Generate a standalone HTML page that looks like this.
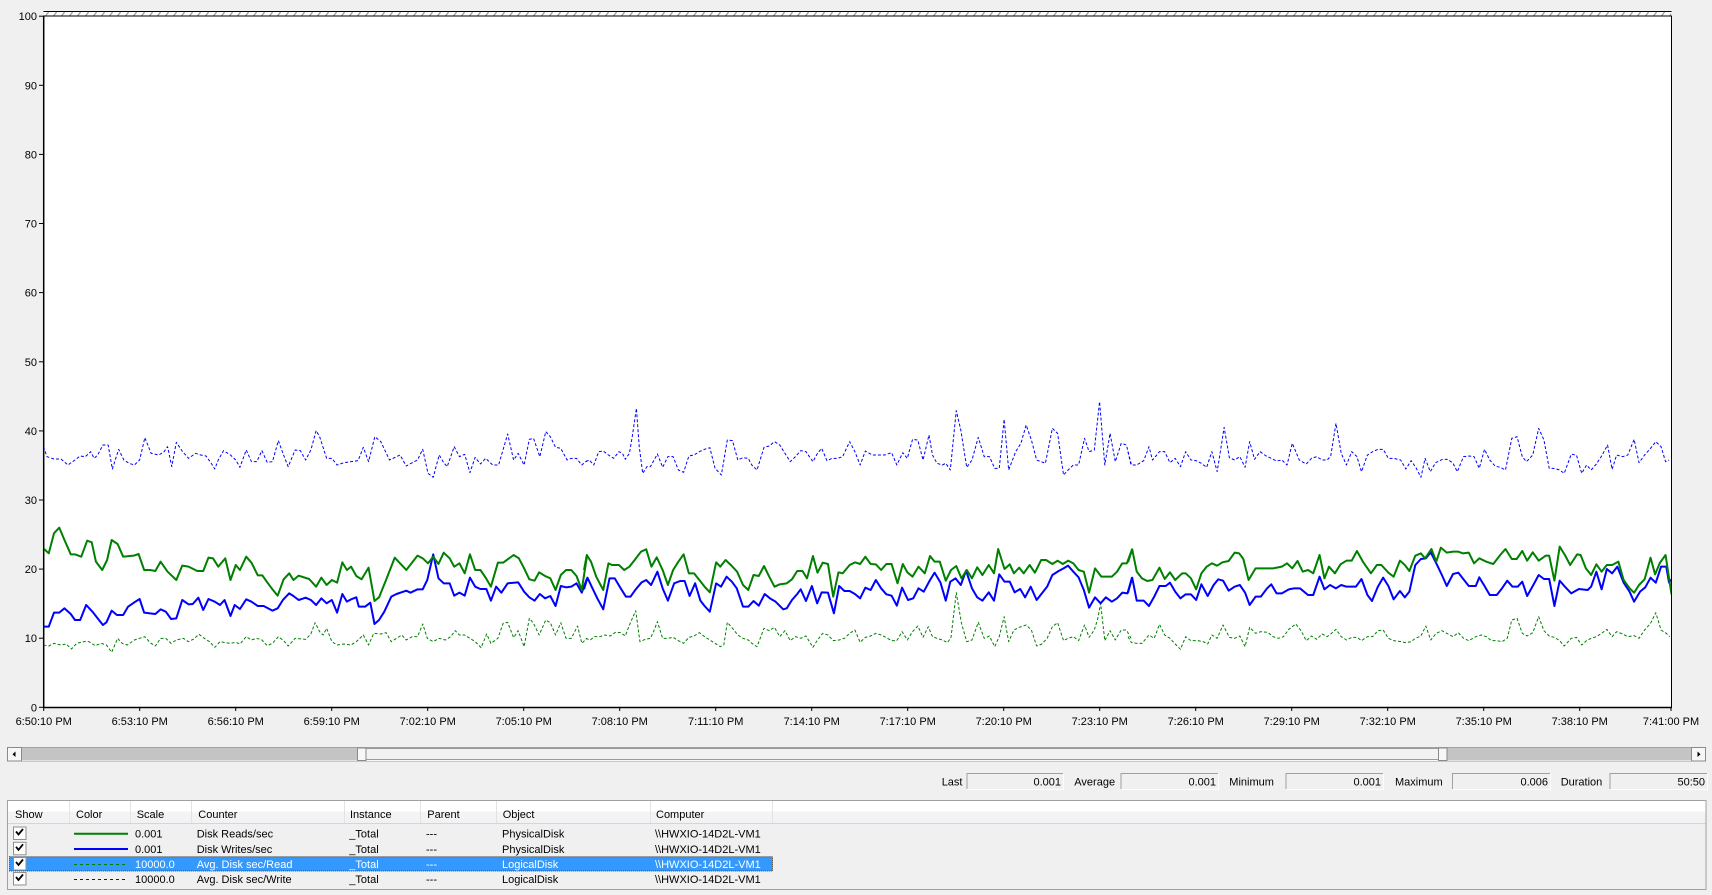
<!DOCTYPE html>
<html>
<head>
<meta charset="utf-8">
<style>
html,body{margin:0;padding:0;background:#f0f0f0;}
body{width:1712px;height:895px;overflow:hidden;}
svg{display:block;font-family:"Liberation Sans",sans-serif;font-size:11px;}
text{fill:#000;}
</style>
</head>
<body>
<svg width="1712" height="895" viewBox="0 0 1712 895" xmlns="http://www.w3.org/2000/svg">
<defs>
<pattern id="hatch" width="8" height="5" patternUnits="userSpaceOnUse" x="44" y="11.5">
<rect width="8" height="5" fill="#fff"/>
<line x1="1" y1="5" x2="5" y2="0" stroke="#8a8a8a" stroke-width="1"/>
</pattern>
<clipPath id="plotclip"><rect x="44" y="16" width="1627" height="691"/></clipPath>
<linearGradient id="hdr" x1="0" y1="0" x2="0" y2="1">
<stop offset="0" stop-color="#ffffff"/><stop offset="0.45" stop-color="#ffffff"/><stop offset="0.5" stop-color="#f3f4f6"/><stop offset="1" stop-color="#f1f2f4"/>
</linearGradient>
</defs>

<!-- plot area -->
<rect x="0" y="0" width="1712" height="895" fill="#f0f0f0"/>
<rect x="44" y="11.5" width="1627" height="4.5" fill="url(#hatch)"/>
<line x1="43.5" y1="11.5" x2="1671.5" y2="11.5" stroke="#000"/>
<rect x="43.5" y="16" width="1628" height="691.5" fill="#fff" stroke="#000" stroke-width="1"/>
<line x1="43.7" y1="16" x2="43.7" y2="708" stroke="#000" stroke-width="1.5"/>
<line x1="43" y1="707.5" x2="1672" y2="707.5" stroke="#000" stroke-width="1.5"/>

<!-- y ticks -->
<g stroke="#000" stroke-width="1">
<line x1="39" y1="707.3" x2="44" y2="707.3"/><line x1="39" y1="638.2" x2="44" y2="638.2"/><line x1="39" y1="569.1" x2="44" y2="569.1"/><line x1="39" y1="500" x2="44" y2="500"/><line x1="39" y1="430.9" x2="44" y2="430.9"/><line x1="39" y1="361.8" x2="44" y2="361.8"/><line x1="39" y1="292.6" x2="44" y2="292.6"/><line x1="39" y1="223.5" x2="44" y2="223.5"/><line x1="39" y1="154.4" x2="44" y2="154.4"/><line x1="39" y1="85.3" x2="44" y2="85.3"/><line x1="39" y1="16.2" x2="44" y2="16.2"/>
</g>
<g text-anchor="end">
<text x="37" y="711.3">0</text><text x="37" y="642.2">10</text><text x="37" y="573.1">20</text><text x="37" y="504">30</text><text x="37" y="434.9">40</text><text x="37" y="365.8">50</text><text x="37" y="296.6">60</text><text x="37" y="227.5">70</text><text x="37" y="158.4">80</text><text x="37" y="89.3">90</text><text x="37" y="20.2">100</text>
</g>

<!-- x ticks -->
<g stroke="#000" stroke-width="1">
<line x1="43.7" y1="707" x2="43.7" y2="711"/><line x1="139.7" y1="707" x2="139.7" y2="711"/><line x1="235.7" y1="707" x2="235.7" y2="711"/><line x1="331.7" y1="707" x2="331.7" y2="711"/><line x1="427.7" y1="707" x2="427.7" y2="711"/><line x1="523.7" y1="707" x2="523.7" y2="711"/><line x1="619.7" y1="707" x2="619.7" y2="711"/><line x1="715.7" y1="707" x2="715.7" y2="711"/><line x1="811.7" y1="707" x2="811.7" y2="711"/><line x1="907.7" y1="707" x2="907.7" y2="711"/><line x1="1003.7" y1="707" x2="1003.7" y2="711"/><line x1="1099.7" y1="707" x2="1099.7" y2="711"/><line x1="1195.7" y1="707" x2="1195.7" y2="711"/><line x1="1291.7" y1="707" x2="1291.7" y2="711"/><line x1="1387.7" y1="707" x2="1387.7" y2="711"/><line x1="1483.7" y1="707" x2="1483.7" y2="711"/><line x1="1579.7" y1="707" x2="1579.7" y2="711"/><line x1="1671" y1="707" x2="1671" y2="711"/>
</g>
<g text-anchor="middle">
<text x="43.7" y="725">6:50:10 PM</text><text x="139.7" y="725">6:53:10 PM</text><text x="235.7" y="725">6:56:10 PM</text><text x="331.7" y="725">6:59:10 PM</text><text x="427.7" y="725">7:02:10 PM</text><text x="523.7" y="725">7:05:10 PM</text><text x="619.7" y="725">7:08:10 PM</text><text x="715.7" y="725">7:11:10 PM</text><text x="811.7" y="725">7:14:10 PM</text><text x="907.7" y="725">7:17:10 PM</text><text x="1003.7" y="725">7:20:10 PM</text><text x="1099.7" y="725">7:23:10 PM</text><text x="1195.7" y="725">7:26:10 PM</text><text x="1291.7" y="725">7:29:10 PM</text><text x="1387.7" y="725">7:32:10 PM</text><text x="1483.7" y="725">7:35:10 PM</text><text x="1579.7" y="725">7:38:10 PM</text><text x="1671" y="725">7:41:00 PM</text>
</g>

<!-- series -->
<g clip-path="url(#plotclip)" fill="none" stroke-linejoin="round">
<!-- segment 1 -->
<g transform="translate(40,390) scale(0.34953,0.33333)">
<polyline vector-effect="non-scaling-stroke" stroke="#0000ff" stroke-width="1" stroke-dasharray="3,2" points="10,170 20,200 40,207 60,207 80,225 100,210 115,198 130,200 145,185 155,205 165,195 180,165 195,165 207,237 225,178 240,210 255,220 270,225 285,210 300,143 318,190 340,195 355,185 365,170 377,230 390,157 408,185 425,205 445,190 460,195 475,198 490,220 500,237 510,210 525,182 545,195 560,210 572,232 590,180 605,215 620,215 635,182 650,217 665,215 682,152 695,190 710,230 730,180 745,182 760,210 775,180 790,122 800,140 820,205 835,205 850,225 870,218 890,215 910,212 925,172 940,215 958,140 975,155 1000,210 1020,200 1030,195 1048,228 1065,218 1080,210 1095,178 1110,250 1125,262 1142,195 1155,218 1165,230 1185,170 1200,200 1215,193 1230,248 1245,202 1260,222 1275,205 1295,225 1312,225 1338,132 1355,210 1368,190 1385,225 1400,148 1412,145 1430,200 1447,125 1460,140 1475,172 1490,175 1508,210 1520,205 1535,205 1550,225 1565,212"/>
<polyline vector-effect="non-scaling-stroke" stroke="#008000" stroke-width="1" stroke-dasharray="3,2" points="10,765 25,768 40,760 60,765 75,762 90,777 105,760 125,755 140,755 158,767 175,760 190,765 205,787 222,745 235,760 250,765 270,750 285,745 300,740 315,758 330,768 345,745 360,745 375,760 390,750 410,745 425,755 440,747 455,733 470,745 485,755 500,772 515,755 530,758 545,760 560,757 572,762 590,740 605,750 620,745 635,750 650,767 665,760 682,740 697,752 710,768 730,745 760,748 775,732 787,698 800,725 810,735 820,715 835,755 850,765 870,762 890,765 905,755 925,735 940,765 955,730 975,732 990,728 1005,755 1020,745 1035,735 1048,750 1065,740 1080,740 1095,702 1108,745 1125,755 1142,745 1160,750 1175,740 1188,722 1200,735 1215,735 1230,745 1245,755 1262,773 1278,732 1290,760 1310,745 1325,700 1338,697 1355,743 1368,722 1385,770 1400,685 1412,700 1428,735 1447,690 1460,698 1475,735 1490,698 1505,745 1520,745 1538,708 1550,760 1565,745"/>
<polyline vector-effect="non-scaling-stroke" stroke="#0000ff" stroke-width="2" points="10,710 25,710 40,668 55,668 70,655 88,672 100,690 115,690 132,645 150,665 165,685 180,705 190,697 205,662 220,675 238,675 252,650 270,637 285,627 298,668 315,670 330,672 345,658 360,665 375,687 390,685 407,630 425,643 437,642 453,623 467,660 482,627 500,635 515,645 528,630 545,678 557,645 572,657 590,628 605,635 623,648 640,648 665,662 680,655 695,630 713,610 725,618 740,630 760,623 775,630 790,645 805,625 820,640 835,630 850,668 865,612 878,635 890,628 905,622 912,650 930,650 945,638 957,702 970,690 985,665 1005,620 1020,612 1048,602 1060,608 1080,598 1095,598 1108,570 1125,493 1140,565 1155,580 1172,580 1185,617 1200,608 1215,617 1230,563 1245,590 1260,597 1277,597 1290,632 1305,590 1320,608 1338,580 1368,577 1385,605 1400,622 1415,632 1430,612 1445,625 1460,618 1475,648 1490,588 1505,592 1520,590 1535,580 1550,608 1565,565"/>
<polyline vector-effect="non-scaling-stroke" stroke="#008000" stroke-width="2" points="10,475 25,490 40,430 55,413 70,450 88,493 100,493 118,500 135,452 148,457 160,515 178,540 192,510 205,450 222,462 238,500 268,497 282,492 298,540 315,540 330,543 345,515 365,545 390,570 407,527 425,530 450,543 467,543 482,503 495,505 510,530 530,505 545,570 560,525 572,540 590,500 605,518 623,556 636,556 650,577 665,598 680,617 697,568 713,550 725,570 740,557 770,567 790,590 805,563 820,585 835,570 850,578 865,517 878,540 890,530 905,558 920,568 940,533 957,633 970,622 990,570 1015,503 1030,520 1048,540 1080,497 1095,505 1110,520 1125,500 1140,522 1155,488 1172,505 1185,530 1200,520 1215,550 1230,493 1245,540 1260,540 1275,563 1290,590 1310,518 1325,518 1355,495 1370,505 1385,535 1400,568 1415,572 1428,547 1445,558 1460,565 1475,600 1490,555 1505,540 1520,540 1535,558 1550,600 1565,497"/>
</g>
<!-- segment 2 -->
<g transform="translate(584,390) scale(0.34953,0.33333)">
<polyline vector-effect="non-scaling-stroke" stroke="#0000ff" stroke-width="1" stroke-dasharray="3,2" points="5,215 15,210 28,225 42,185 55,183 70,195 85,205 100,185 110,190 118,208 130,190 138,140 150,55 158,170 168,250 180,230 190,230 210,192 225,232 240,200 255,200 270,240 285,247 300,198 315,195 330,185 345,178 360,173 375,235 393,255 410,150 425,152 440,210 455,203 470,205 480,225 495,240 515,172 530,168 545,155 560,165 575,190 590,215 605,200 620,182 635,185 645,200 655,215 668,190 680,175 695,212 710,205 725,205 740,200 760,155 775,185 790,225 805,183 825,195 845,195 860,195 880,188 895,225 912,188 925,205 940,148 955,150 970,210 987,135 997,195 1010,220 1025,225 1035,220 1048,240 1065,62 1078,120 1095,232 1110,210 1128,142 1145,200 1160,200 1175,235 1188,235 1202,88 1215,240 1235,185 1250,160 1265,105 1280,150 1295,210 1320,220 1340,115 1355,130 1372,255 1385,240 1400,225 1415,225 1432,145 1445,185 1460,180 1475,35 1490,225 1505,130 1520,215 1537,160 1552,165 1565,225"/>
<polyline vector-effect="non-scaling-stroke" stroke="#008000" stroke-width="1" stroke-dasharray="3,2" points="5,745 18,750 30,740 45,740 60,735 75,738 90,727 105,728 118,738 130,705 148,662 160,755 175,748 190,745 200,722 210,695 225,745 240,745 255,742 270,752 285,760 300,742 315,738 330,728 345,740 360,750 375,760 390,770 400,765 410,697 425,715 440,735 455,745 470,750 480,760 495,770 515,715 530,722 545,712 560,740 575,722 590,752 605,740 620,745 635,738 655,772 668,750 683,730 698,735 713,752 730,750 745,745 760,730 775,720 790,757 805,742 820,738 835,730 850,735 865,743 880,752 895,752 910,725 925,750 940,725 955,708 970,742 985,710 997,740 1010,745 1025,750 1040,758 1050,742 1065,608 1080,700 1095,755 1110,750 1128,697 1145,745 1160,738 1175,770 1188,740 1202,680 1215,755 1230,720 1245,712 1265,705 1280,720 1295,768 1310,762 1325,745 1340,710 1355,698 1372,752 1385,745 1400,740 1415,752 1432,705 1445,742 1460,720 1470,685 1478,640 1490,752 1505,722 1520,750 1537,720 1552,720 1565,745"/>
<polyline vector-effect="non-scaling-stroke" stroke="#0000ff" stroke-width="2" points="0,598 10,563 22,590 38,625 55,658 73,565 88,565 105,595 120,620 133,620 148,598 165,577 178,570 192,585 210,545 225,595 240,632 258,580 275,573 288,573 302,618 318,580 333,632 345,648 360,665 378,580 392,590 408,560 423,575 437,595 455,650 470,650 485,633 500,647 517,612 532,625 548,635 570,658 580,655 595,630 610,612 620,598 635,633 652,588 667,640 680,607 698,608 715,670 730,588 745,603 760,603 775,612 790,625 805,593 820,600 835,570 850,595 865,613 880,617 895,647 910,593 927,630 942,625 957,595 972,605 990,570 1003,548 1020,578 1035,632 1048,575 1063,565 1078,585 1093,542 1110,595 1125,622 1140,632 1158,607 1173,632 1188,553 1203,575 1218,575 1232,607 1248,597 1262,622 1278,590 1295,630 1310,610 1325,590 1340,555 1358,543 1372,535 1385,527 1400,545 1415,562 1430,600 1445,653 1462,622 1478,640 1493,622 1510,635 1525,625 1540,608 1555,610 1568,562"/>
<polyline vector-effect="non-scaling-stroke" stroke="#008000" stroke-width="2" points="0,540 8,495 20,515 35,560 55,600 70,520 80,525 100,525 115,540 130,530 145,510 163,485 178,478 193,530 208,502 225,540 240,585 255,540 270,515 285,493 300,550 315,550 330,570 345,590 360,607 378,517 390,530 405,510 420,525 438,545 455,585 470,600 485,555 500,558 515,528 530,560 545,590 560,583 580,580 595,568 610,543 625,543 638,565 655,498 668,548 683,518 698,522 713,620 728,547 740,550 760,525 775,517 790,522 805,500 820,522 835,523 850,540 865,522 880,522 897,580 912,522 925,547 940,560 957,530 975,550 990,498 1003,515 1018,515 1035,572 1050,540 1065,528 1080,565 1095,540 1110,565 1125,532 1140,555 1158,525 1173,550 1185,477 1203,537 1218,523 1230,550 1245,533 1258,550 1275,525 1290,548 1308,510 1322,510 1340,522 1355,512 1370,522 1385,512 1400,520 1415,540 1430,545 1445,608 1462,535 1480,560 1510,560 1525,545 1540,520 1553,520 1568,478"/>
</g>
<!-- segment 3 -->
<g transform="translate(1128,390) scale(0.34953,0.33333)">
<polyline vector-effect="non-scaling-stroke" stroke="#0000ff" stroke-width="1" stroke-dasharray="3,2" points="0,185 10,225 25,225 45,212 60,170 70,210 80,198 90,185 105,185 120,218 135,205 150,230 165,185 180,210 195,212 210,220 225,232 240,185 255,245 265,180 275,112 290,203 305,210 320,200 335,232 348,155 362,208 378,185 395,198 410,205 425,213 440,210 455,225 470,160 490,210 510,222 525,205 540,200 555,210 570,210 580,198 595,100 610,190 625,225 640,185 655,200 668,245 685,195 700,185 715,178 730,178 745,205 760,205 780,210 795,237 810,212 825,235 838,262 850,205 865,245 880,218 900,208 915,208 930,220 942,245 960,200 975,198 990,200 1005,235 1020,178 1035,210 1050,228 1065,232 1080,240 1098,145 1113,140 1128,200 1140,215 1158,195 1175,115 1190,150 1205,235 1220,235 1235,240 1248,250 1268,193 1283,195 1298,250 1312,225 1325,240 1340,222 1355,198 1372,165 1385,238 1398,195 1415,200 1430,195 1448,148 1462,218 1478,195 1495,175 1510,155 1525,170 1538,215 1548,210"/>
<polyline vector-effect="non-scaling-stroke" stroke="#008000" stroke-width="1" stroke-dasharray="3,2" points="0,740 10,758 25,760 40,760 60,735 75,745 90,703 105,735 120,745 135,762 150,778 165,740 180,752 200,752 215,755 228,762 240,735 255,745 272,705 290,742 305,745 320,738 335,770 348,712 365,730 380,725 400,727 415,740 430,745 445,740 460,718 480,702 495,722 510,752 525,738 540,748 555,732 570,740 580,732 595,718 610,740 625,750 640,742 655,742 668,752 685,740 700,740 715,722 730,720 745,745 760,752 780,755 795,758 810,755 822,745 838,738 852,708 866,750 882,730 898,722 912,730 930,740 945,728 960,745 975,752 995,740 1010,735 1025,740 1040,752 1055,752 1070,755 1085,745 1098,690 1113,685 1128,730 1142,738 1158,728 1175,680 1190,722 1205,738 1220,742 1235,752 1248,768 1268,745 1283,742 1298,765 1312,752 1325,745 1340,740 1355,730 1370,718 1385,740 1398,725 1415,732 1430,740 1448,737 1462,745 1478,720 1495,700 1510,668 1525,720 1540,730 1550,740"/>
<polyline vector-effect="non-scaling-stroke" stroke="#0000ff" stroke-width="2" points="0,608 12,563 25,632 45,632 60,648 75,620 90,588 108,588 120,578 135,605 150,625 165,613 180,613 195,630 210,583 228,618 245,585 258,568 272,572 288,602 305,590 320,585 335,608 348,645 365,620 380,620 398,595 410,583 425,610 440,610 460,598 475,595 492,595 515,615 530,615 548,560 562,598 578,585 595,595 610,585 625,590 652,590 668,567 685,615 698,633 715,590 730,563 745,588 760,628 778,603 792,622 805,605 822,525 838,507 852,505 866,487 882,520 898,555 912,588 930,552 945,548 960,568 975,588 995,588 1005,562 1020,588 1035,615 1055,615 1070,595 1085,572 1100,590 1115,590 1128,575 1142,618 1158,588 1175,555 1190,567 1205,567 1220,648 1235,572 1250,590 1268,610 1290,597 1315,600 1325,590 1340,545 1355,598 1370,537 1385,550 1400,530 1418,578 1435,605 1448,635 1465,605 1480,592 1495,563 1510,578 1525,530 1540,530 1548,578 1555,568"/>
<polyline vector-effect="non-scaling-stroke" stroke="#008000" stroke-width="2" points="0,517 12,478 25,545 40,565 55,573 70,570 90,533 105,567 120,547 135,570 155,550 165,550 180,565 195,598 210,550 225,530 240,520 255,527 270,517 288,513 305,488 318,490 330,507 345,570 365,535 395,535 415,535 440,530 455,520 470,535 485,513 500,545 515,540 530,550 548,495 562,565 575,530 592,550 608,523 625,512 640,512 655,483 672,515 695,550 712,525 725,525 745,548 760,560 778,512 792,525 805,543 822,497 838,490 850,505 868,477 882,515 895,473 912,488 930,485 945,485 958,490 975,488 990,520 1005,505 1025,515 1045,522 1065,495 1080,477 1098,507 1112,507 1128,483 1142,512 1158,487 1175,512 1195,497 1205,497 1220,572 1235,470 1250,495 1265,525 1285,493 1295,495 1310,535 1325,555 1340,523 1355,545 1370,525 1385,525 1403,515 1418,570 1435,595 1448,608 1462,585 1478,568 1495,503 1508,553 1522,518 1538,495 1548,565 1555,613"/>
</g>
</g>
<line x1="1671.5" y1="16" x2="1671.5" y2="707" stroke="#000" stroke-width="1"/>

<!-- scrollbar -->
<rect x="7.5" y="747.5" width="1698" height="13.5" fill="#f0f0f0" stroke="#a0a0a0" stroke-width="1"/>
<line x1="8" y1="760.5" x2="1705" y2="760.5" stroke="#ffffff"/>
<rect x="21.7" y="748" width="335.6" height="12.5" fill="#c4c4c4"/>
<rect x="1447" y="748" width="245" height="12.5" fill="#c4c4c4"/>
<rect x="366.5" y="748" width="1071.5" height="12.5" fill="#f2f2f2"/>
<line x1="366" y1="748.5" x2="1438" y2="748.5" stroke="#9a9a9a"/>
<line x1="366" y1="759.5" x2="1438" y2="759.5" stroke="#9a9a9a"/>
<rect x="357.5" y="748" width="8.5" height="12.5" fill="#f7f7f7" stroke="#8a8a8a" stroke-width="1"/>
<rect x="1438.5" y="748" width="8.5" height="12.5" fill="#f7f7f7" stroke="#8a8a8a" stroke-width="1"/>
<rect x="7.5" y="747.5" width="14" height="13.5" fill="#f7f7f7" stroke="#8a8a8a" stroke-width="1"/>
<polygon points="12.5,754.2 15.5,751.5 15.5,757" fill="#000"/>
<rect x="1691.5" y="747.5" width="14" height="13.5" fill="#f7f7f7" stroke="#8a8a8a" stroke-width="1"/>
<polygon points="1700.5,754.2 1697.5,751.5 1697.5,757" fill="#000"/>

<!-- statistics -->
<g>
<text x="941.7" y="785.5">Last</text>
<text x="1074.3" y="785.5">Average</text>
<text x="1229.3" y="785.5">Minimum</text>
<text x="1395" y="785.5">Maximum</text>
<text x="1560.7" y="785.5">Duration</text>
</g>
<g fill="none">
<path d="M967,789 V773.5 H1063" stroke="#a0a0a0"/><path d="M1063.5,773.5 V789.5 H967" stroke="#ffffff"/>
<path d="M1121,789 V773.5 H1218" stroke="#a0a0a0"/><path d="M1218.5,773.5 V789.5 H1121" stroke="#ffffff"/>
<path d="M1286,789 V773.5 H1383" stroke="#a0a0a0"/><path d="M1383.5,773.5 V789.5 H1286" stroke="#ffffff"/>
<path d="M1452.5,789 V773.5 H1550" stroke="#a0a0a0"/><path d="M1550.5,773.5 V789.5 H1452.5" stroke="#ffffff"/>
<path d="M1610,789 V773.5 H1707" stroke="#a0a0a0"/><path d="M1707.5,773.5 V789.5 H1610" stroke="#ffffff"/>
</g>
<g text-anchor="end">
<text x="1061" y="785.5">0.001</text>
<text x="1216" y="785.5">0.001</text>
<text x="1381" y="785.5">0.001</text>
<text x="1548" y="785.5">0.006</text>
<text x="1705" y="785.5">50:50</text>
</g>

<!-- legend table -->
<rect x="7.5" y="800.5" width="1698.5" height="89" fill="#f0f0f0" stroke="#a0a0a0" stroke-width="1"/>
<rect x="8" y="801" width="1697.5" height="22.5" fill="url(#hdr)"/>
<line x1="8" y1="823.5" x2="1705.5" y2="823.5" stroke="#d5d5d5"/>
<g stroke="#e2e3e5">
<line x1="69.5" y1="801" x2="69.5" y2="823"/><line x1="130.5" y1="801" x2="130.5" y2="823"/><line x1="191.5" y1="801" x2="191.5" y2="823"/><line x1="344.5" y1="801" x2="344.5" y2="823"/><line x1="420.5" y1="801" x2="420.5" y2="823"/><line x1="496.5" y1="801" x2="496.5" y2="823"/><line x1="650.5" y1="801" x2="650.5" y2="823"/><line x1="772.5" y1="801" x2="772.5" y2="823"/>
</g>
<g>
<text x="15" y="818">Show</text><text x="76" y="818">Color</text><text x="136.7" y="818">Scale</text><text x="198.3" y="818">Counter</text><text x="350" y="818">Instance</text><text x="427.3" y="818">Parent</text><text x="502.7" y="818">Object</text><text x="656" y="818">Computer</text>
</g>

<!-- selected row -->
<rect x="9.5" y="856.7" width="763" height="14.3" fill="#3399ff"/>
<rect x="9.5" y="856.7" width="763" height="14.3" fill="none" stroke="#5a3a10" stroke-width="1" stroke-dasharray="1,1"/>

<!-- checkboxes -->
<g>
<rect x="13.5" y="827" width="12.5" height="12.5" fill="#fff" stroke="#8f8f8f"/>
<rect x="13.5" y="842.3" width="12.5" height="12.5" fill="#fff" stroke="#8f8f8f"/>
<rect x="13.5" y="857.5" width="12.5" height="12.5" fill="#fff" stroke="#8f8f8f"/>
<rect x="13.5" y="872.5" width="12.5" height="12.5" fill="#fff" stroke="#8f8f8f"/>
</g>
<g fill="none" stroke="#000" stroke-width="1.8">
<path d="M16,831.5 l2.5,3 l4.5,-5.5"/>
<path d="M16,846.8 l2.5,3 l4.5,-5.5"/>
<path d="M16,862 l2.5,3 l4.5,-5.5"/>
<path d="M16,877 l2.5,3 l4.5,-5.5"/>
</g>

<!-- color swatches -->
<line x1="74" y1="833.7" x2="128" y2="833.7" stroke="#008000" stroke-width="2"/>
<line x1="74" y1="849" x2="128" y2="849" stroke="#0000ff" stroke-width="2"/>
<line x1="74" y1="864.5" x2="126" y2="864.5" stroke="#008000" stroke-width="1" stroke-dasharray="3,3"/>
<line x1="74" y1="879.5" x2="126" y2="879.5" stroke="#0000ff" stroke-width="1" stroke-dasharray="3,3"/>

<!-- rows text -->
<g>
<text x="135" y="837.7">0.001</text><text x="196.7" y="837.7">Disk Reads/sec</text><text x="349.3" y="837.7">_Total</text><text x="426" y="837.7">---</text><text x="502" y="837.7">PhysicalDisk</text><text x="655" y="837.7">\\HWXIO-14D2L-VM1</text>
<text x="135" y="853">0.001</text><text x="196.7" y="853">Disk Writes/sec</text><text x="349.3" y="853">_Total</text><text x="426" y="853">---</text><text x="502" y="853">PhysicalDisk</text><text x="655" y="853">\\HWXIO-14D2L-VM1</text>
<text x="135" y="883">10000.0</text><text x="196.7" y="883">Avg. Disk sec/Write</text><text x="349.3" y="883">_Total</text><text x="426" y="883">---</text><text x="502" y="883">LogicalDisk</text><text x="655" y="883">\\HWXIO-14D2L-VM1</text>
</g>
<g style="fill:#ffffff">
<text x="135" y="868" style="fill:#fff">10000.0</text><text x="196.7" y="868" style="fill:#fff">Avg. Disk sec/Read</text><text x="349.3" y="868" style="fill:#fff">_Total</text><text x="426" y="868" style="fill:#fff">---</text><text x="502" y="868" style="fill:#fff">LogicalDisk</text><text x="655" y="868" style="fill:#fff">\\HWXIO-14D2L-VM1</text>
</g>
</svg>
</body>
</html>
